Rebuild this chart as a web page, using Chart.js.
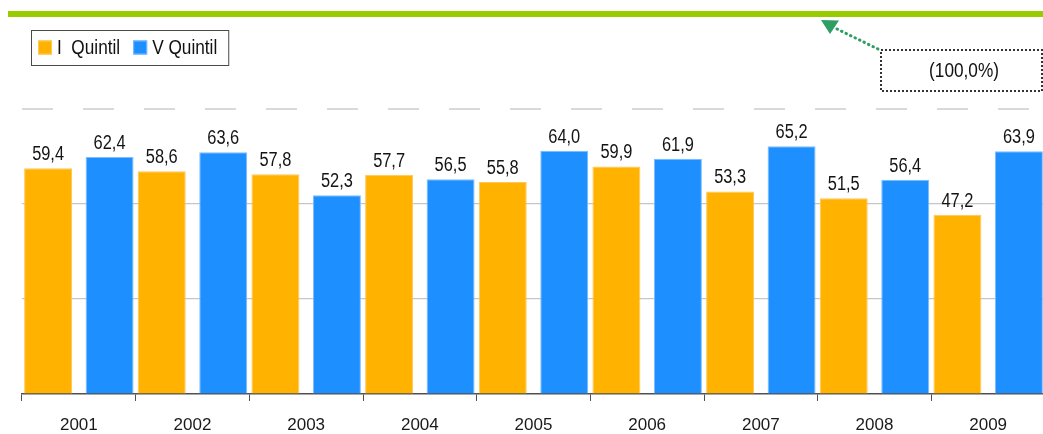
<!DOCTYPE html>
<html>
<head>
<meta charset="utf-8">
<script src="https://cdn.jsdelivr.net/npm/chart.js@4.4.1/dist/chart.umd.min.js"></script>
<style>
  html, body { margin: 0; padding: 0; background: #ffffff; overflow: hidden; }
  #wrap { position: relative; width: 1045px; height: 434px; }
</style>
</head>
<body>
<div id="wrap"><canvas id="chart" width="1045" height="434"></canvas></div>
<script>
// Years on the category axis
const years = ['2001', '2002', '2003', '2004', '2005', '2006', '2007', '2008', '2009'];
// Share (%) for the lowest and highest income quintiles
const quintilI = [59.4, 58.6, 57.8, 57.7, 55.8, 59.9, 53.3, 51.5, 47.2];
const quintilV = [62.4, 63.6, 52.3, 56.5, 64.0, 61.9, 65.2, 56.4, 63.9];
// Series names shown in the legend
const seriesNames = ['I  Quintil', 'V Quintil'];
// Value axis reference ticks (100 = reference total)
const yTicks = [0, 25, 50, 75, 100];
const referenceValue = 100;
const referenceLabel = '(100,0%)';

const REGULAR = "'Liberation Sans', Arial, sans-serif";
const NARROW_SCALE = 0.82; // Liberation Sans squeezed horizontally to a narrow face
const ORANGE = '#FFB200', ORANGE_EDGE = '#FFC65A';
const BLUE = '#1E8FFF', BLUE_EDGE = '#7CBCFF';
const GREEN_LINE = '#99CC00';
const GREEN_MARK = '#2E9E62';

const fmt = v => v.toFixed(1).replace('.', ',');

// Draws text with a condensed look; returns its on-screen width
function narrowText(ctx, text, x, y, size) {
  ctx.save();
  ctx.font = size + 'px ' + REGULAR;
  ctx.translate(x, y);
  ctx.scale(NARROW_SCALE, 1);
  ctx.fillText(text, 0, 0);
  const w = ctx.measureText(text).width * NARROW_SCALE;
  ctx.restore();
  return w;
}
function narrowWidth(ctx, text, size) {
  ctx.save();
  ctx.font = size + 'px ' + REGULAR;
  const w = ctx.measureText(text).width * NARROW_SCALE;
  ctx.restore();
  return w;
}

// Value labels above each bar
const valueLabels = {
  id: 'valueLabels',
  afterDatasetsDraw(chart) {
    const ctx = chart.ctx;
    ctx.save();
    ctx.fillStyle = '#141414';
    ctx.textAlign = 'center';
    ctx.textBaseline = 'alphabetic';
    chart.data.datasets.forEach((ds, di) => {
      chart.getDatasetMeta(di).data.forEach((bar, i) => {
        narrowText(ctx, fmt(ds.data[i]), bar.x, bar.y - 8, 20);
      });
    });
    ctx.restore();
  }
};

// Boxed legend in the top-left corner
const boxedLegend = {
  id: 'boxedLegend',
  afterDraw(chart) {
    const ctx = chart.ctx;
    ctx.save();
    ctx.textBaseline = 'middle';
    ctx.textAlign = 'left';
    const left = 31, top = 30, h = 35;
    let x = left + 7;
    const cy = top + h / 2;
    chart.data.datasets.forEach((ds, i) => {
      ctx.fillStyle = ds.backgroundColor;
      ctx.fillRect(x, cy - 7, 14, 14);
      ctx.strokeStyle = ds.borderColor;
      ctx.lineWidth = 1;
      ctx.strokeRect(x + 0.5, cy - 6.5, 13, 13);
      x += 19;
      ctx.fillStyle = '#111111';
      x += narrowText(ctx, ds.label, x, cy + 1, 21);
      if (i < chart.data.datasets.length - 1) x += 13;
    });
    const w = x + 11 - left;
    ctx.strokeStyle = '#4a4a4a';
    ctx.lineWidth = 1;
    ctx.strokeRect(left + 0.5, top + 0.5, w, h);
    ctx.restore();
  }
};

// Callout pointing at the 100% reference line
const referenceCallout = {
  id: 'referenceCallout',
  afterDraw(chart) {
    const ctx = chart.ctx;
    const yRef = chart.scales.y.getPixelForValue(referenceValue);
    ctx.save();
    // arrow head just under the reference line
    const ty = yRef + 6;
    ctx.fillStyle = GREEN_MARK;
    ctx.beginPath();
    ctx.moveTo(821, ty);
    ctx.lineTo(839, ty + 0.5);
    ctx.lineTo(830, ty + 14);
    ctx.closePath();
    ctx.fill();
    // dotted leader
    ctx.strokeStyle = GREEN_MARK;
    ctx.lineWidth = 3;
    ctx.lineCap = 'round';
    ctx.setLineDash([0.5, 4.5]);
    ctx.beginPath();
    ctx.moveTo(837, ty + 9);
    ctx.lineTo(880, ty + 30);
    ctx.stroke();
    // dotted box
    ctx.lineCap = 'butt';
    ctx.setLineDash([2, 2]);
    ctx.lineWidth = 2;
    ctx.strokeStyle = '#333333';
    ctx.strokeRect(881, 50, 161, 41);
    ctx.setLineDash([]);
    ctx.fillStyle = '#111111';
    ctx.textAlign = 'center';
    ctx.textBaseline = 'middle';
    narrowText(ctx, referenceLabel, 964, 71, 21);
    ctx.restore();
  }
};

const gridColor = v => {
  if (v === referenceValue) return GREEN_LINE;
  if (v === 75) return '#d9d9d9';
  if (v === 0) return 'rgba(0,0,0,0)';
  return '#c6c6c6';
};

new Chart(document.getElementById('chart'), {
  type: 'bar',
  data: {
    labels: years,
    datasets: [
      { label: seriesNames[0], data: quintilI, backgroundColor: ORANGE, borderColor: ORANGE_EDGE, borderWidth: 1 },
      { label: seriesNames[1], data: quintilV, backgroundColor: BLUE, borderColor: BLUE_EDGE, borderWidth: 1 }
    ]
  },
  options: {
    responsive: false,
    animation: false,
    events: [],
    categoryPercentage: 1.082,
    barPercentage: 0.78,
    layout: { padding: { left: 22, top: 14, right: 0, bottom: 0 } },
    plugins: { legend: { display: false }, tooltip: { enabled: false } },
    scales: {
      x: {
        afterFit: s => { s.height = 40; },
        grid: {
          drawOnChartArea: false,
          drawTicks: true,
          tickLength: 7,
          tickColor: '#505050',
          tickWidth: 1,
          offset: true
        },
        border: { display: true, color: '#505050', width: 1.5 },
        ticks: {
          color: '#1a1a1a',
          font: { family: REGULAR, size: 17 },
          padding: 14,
          maxRotation: 0,
          autoSkip: false
        }
      },
      y: {
        min: 0,
        max: 100,
        afterFit: s => { s.width = 0; },
        afterBuildTicks: s => { s.ticks = yTicks.map(v => ({ value: v })); },
        ticks: { display: false },
        border: {
          display: false,
          dash: ctx => (ctx.tick && ctx.tick.value === 75 ? [31, 30] : [])
        },
        grid: {
          color: ctx => gridColor(ctx.tick ? ctx.tick.value : 0),
          lineWidth: ctx => {
            const v = ctx.tick ? ctx.tick.value : 0;
            if (v === referenceValue) return 6;
            if (v === 75) return 2;
            return 1.2;
          },
          drawTicks: true,
          tickLength: 14,
          tickColor: ctx => (ctx.tick && ctx.tick.value === referenceValue ? GREEN_LINE : 'rgba(0,0,0,0)'),
          tickWidth: ctx => (ctx.tick && ctx.tick.value === referenceValue ? 6 : 1)
        }
      }
    }
  },
  plugins: [valueLabels, boxedLegend, referenceCallout]
});
</script>
</body>
</html>
